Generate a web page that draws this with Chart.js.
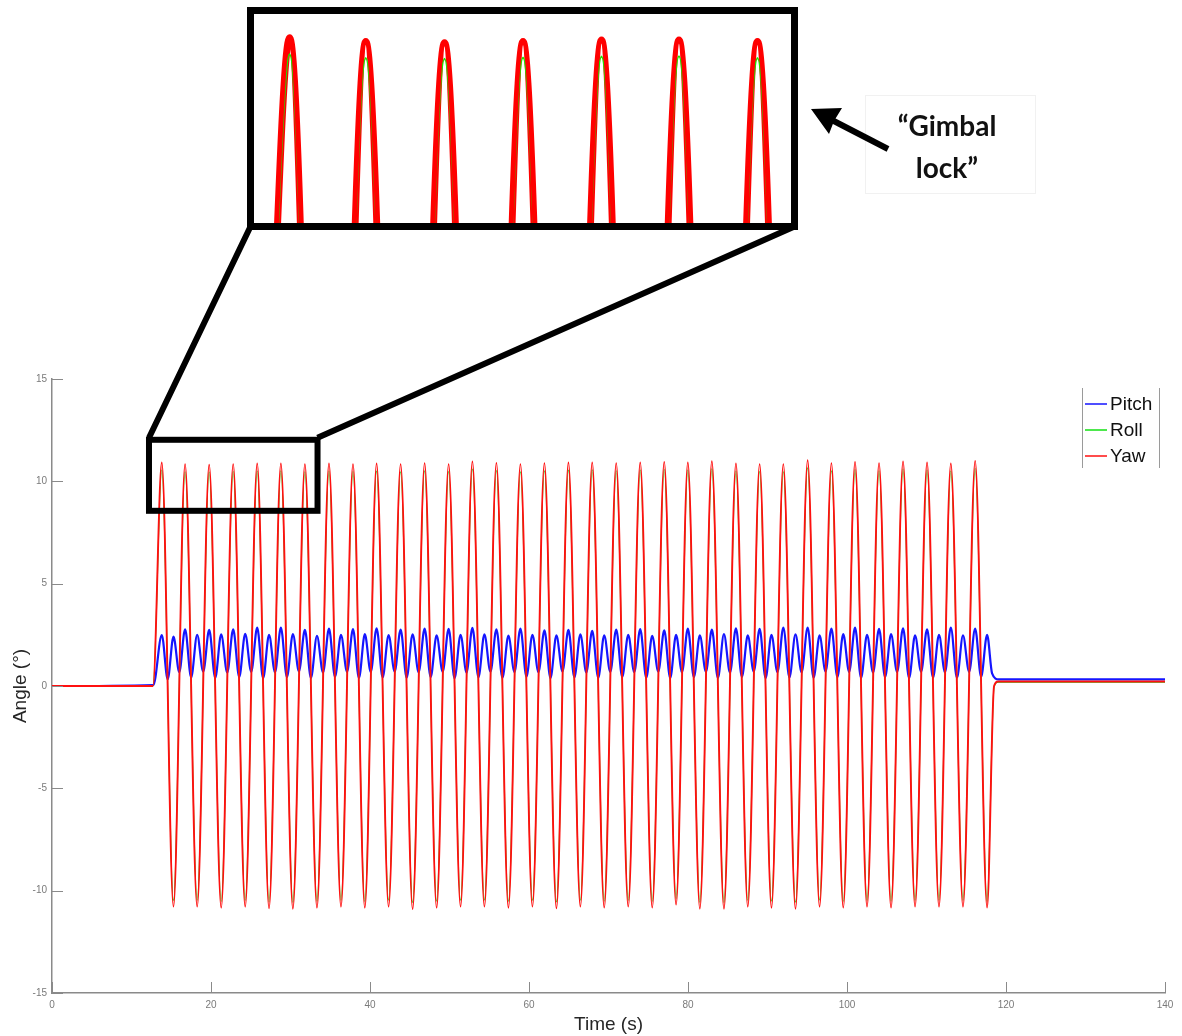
<!DOCTYPE html>
<html>
<head>
<meta charset="utf-8">
<title>Pitch, roll and yaw angles</title>
<script src="https://cdn.jsdelivr.net/npm/chart.js@4.4.1/dist/chart.umd.min.js"></script>
<style>
  html, body { margin: 0; padding: 0; background: #ffffff; }
  #wrap { position: relative; width: 1182px; height: 1036px; overflow: hidden; }
  #main { position: absolute; left: 0; top: 0; }
  #inset { position: absolute; left: 254px; top: 14px; }
  #note {
    position: absolute; left: 847px; top: 104px; width: 200px;
    font-family: Lato, 'Open Sans', sans-serif; font-weight: 700;
    font-size: 28px; line-height: 42px; color: #111; text-align: center;
  }
</style>
</head>
<body>
<div id="wrap">
  <canvas id="main" width="1182" height="1036"></canvas>
  <canvas id="inset" width="537" height="209"></canvas>
  <div id="note">“Gimbal<br>lock”</div>
</div>
<script>
// ---- recorded angles (degrees) against time (s) ----

// times of the yaw/roll crests and troughs (alternating, crest first)
const swingTime = [
  13.81, 15.28, 16.74, 18.26, 19.77, 21.28, 22.79, 24.30, 25.81, 27.30,
  28.79, 30.30, 31.81, 33.33, 34.84, 36.35, 37.86, 39.35, 40.83, 42.34,
  43.85, 45.36, 46.87, 48.38, 49.89, 51.39, 52.88, 54.39, 55.90, 57.41,
  58.92, 60.43, 61.94, 63.45, 64.96, 66.46, 67.95, 69.46, 70.97, 72.48,
  73.99, 75.50, 77.01, 78.50, 79.98, 81.49, 83.00, 84.52, 86.03, 87.52,
  89.01, 90.50, 91.99, 93.52, 95.05, 96.55, 98.04, 99.53, 101.01, 102.52,
  104.03, 105.54, 107.05, 108.56, 110.07, 111.57, 113.06, 114.59, 116.12, 117.62
];

const yawSwing = [
  10.92, -10.78, 10.84, -10.78, 10.81, -10.83, 10.84, -10.78, 10.87, -10.86,
  10.87, -10.88, 10.84, -10.83, 10.87, -10.78, 10.84, -10.83, 10.87, -10.78,
  10.84, -10.90, 10.89, -10.83, 10.84, -10.78, 10.97, -10.78, 10.90, -10.83,
  10.84, -10.78, 10.89, -10.86, 10.92, -10.78, 10.92, -10.83, 10.89, -10.78,
  10.92, -10.83, 10.95, -10.68, 10.92, -10.88, 10.98, -10.88, 10.87, -10.78,
  10.84, -10.83, 10.84, -10.88, 11.03, -10.78, 10.89, -10.83, 10.95, -10.78,
  10.89, -10.83, 10.97, -10.78, 10.92, -10.78, 10.87, -10.78, 11.00, -10.83
];

const rollSwing = [
  10.55, -10.48, 10.47, -10.46, 10.45, -10.52, 10.48, -10.47, 10.50, -10.55,
  10.51, -10.56, 10.47, -10.51, 10.50, -10.47, 10.48, -10.52, 10.50, -10.46,
  10.47, -10.58, 10.52, -10.51, 10.48, -10.47, 10.60, -10.46, 10.53, -10.52,
  10.47, -10.47, 10.52, -10.55, 10.55, -10.46, 10.56, -10.51, 10.52, -10.47,
  10.55, -10.52, 10.58, -10.38, 10.55, -10.56, 10.61, -10.57, 10.50, -10.47,
  10.48, -10.51, 10.47, -10.56, 10.66, -10.46, 10.52, -10.52, 10.58, -10.47,
  10.52, -10.51, 10.60, -10.47, 10.55, -10.46, 10.50, -10.47, 10.63, -10.52
];

// pitch peaks twice per swing: one crest at every yaw crest and trough
const pitchCrest = [
  2.49, 2.41, 2.77, 2.50, 2.74, 2.52, 2.77, 2.55, 2.85, 2.50,
  2.85, 2.54, 2.74, 2.45, 2.80, 2.50, 2.78, 2.53, 2.82, 2.49,
  2.76, 2.52, 2.80, 2.47, 2.79, 2.50, 2.84, 2.52, 2.77, 2.46,
  2.81, 2.50, 2.72, 2.47, 2.74, 2.52, 2.70, 2.48, 2.76, 2.50,
  2.78, 2.45, 2.72, 2.50, 2.80, 2.47, 2.75, 2.53, 2.82, 2.47,
  2.79, 2.50, 2.85, 2.52, 2.85, 2.47, 2.81, 2.53, 2.85, 2.50,
  2.79, 2.53, 2.82, 2.47, 2.77, 2.50, 2.85, 2.47, 2.80, 2.50
];

// pitch dips between its crests
const dipTime = [
  14.55, 16.01, 17.50, 19.02, 20.53, 22.04, 23.55, 25.06, 26.56, 28.05,
  29.55, 31.06, 32.57, 34.09, 35.60, 37.11, 38.61, 40.09, 41.59, 43.10,
  44.61, 46.12, 47.63, 49.14, 50.64, 52.14, 53.64, 55.15, 56.66, 58.17,
  59.68, 61.19, 62.70, 64.21, 65.71, 67.21, 68.71, 70.22, 71.73, 73.24,
  74.75, 76.26, 77.76, 79.24, 80.74, 82.25, 83.76, 85.28, 86.78, 88.27,
  89.76, 91.25, 92.76, 94.29, 95.80, 97.30, 98.79, 100.27, 101.77, 103.28,
  104.79, 106.30, 107.81, 109.32, 110.82, 112.32, 113.83, 115.36, 116.87
];
const pitchDip = [
  0.33, 0.68, 0.42, 0.70, 0.40, 0.66, 0.44, 0.69, 0.38, 0.67,
  0.43, 0.71, 0.40, 0.66, 0.45, 0.69, 0.39, 0.68, 0.42, 0.70,
  0.41, 0.67, 0.44, 0.69, 0.38, 0.66, 0.43, 0.70, 0.40, 0.68,
  0.45, 0.67, 0.39, 0.71, 0.42, 0.66, 0.40, 0.69, 0.44, 0.68,
  0.41, 0.70, 0.38, 0.67, 0.43, 0.69, 0.40, 0.66, 0.45, 0.70,
  0.39, 0.68, 0.42, 0.67, 0.41, 0.71, 0.44, 0.69, 0.40, 0.66,
  0.43, 0.68, 0.39, 0.70, 0.42, 0.67, 0.41, 0.69, 0.44
];

// at rest before the motion starts
const restTime = [0, 12.7];
const restAngle = [0, 0];
const pitchRestTime = [0, 12.75];
const pitchRestAngle = [0, 0.05];

// settling after the motion stops
const yawTailTime = [118.5, 119.0, 140];
const yawTail = [0.0, 0.22, 0.22];
const rollTailTime = [118.5, 119.0, 140];
const rollTail = [-0.05, 0.18, 0.18];
const pitchTailTime = [118.25, 119.1, 140];
const pitchTail = [0.62, 0.32, 0.32];

// axis ticks
const timeTicks = [0, 20, 40, 60, 80, 100, 120, 140];
const angleTicks = [-15, -10, -5, 0, 5, 10, 15];

// magnified window (time range, angle range)
const zoomTime = [12.2, 33.4];
const zoomAngle = [8.56, 12.03];
const insetTime = [12.44, 33.1];
const insetAngle = [6.8, 11.45];

const seriesNames = ['Pitch', 'Roll', 'Yaw'];
const seriesColors = ['#1515ff', '#12e012', '#ff1010'];

// ---- build {x, y} point lists ----
function joinPoints(...parts) {
  const pts = [];
  for (const [t, v] of parts) for (let i = 0; i < t.length; i++) pts.push({ x: t[i], y: v[i] });
  return pts;
}
const yawPoints = joinPoints([restTime, restAngle], [swingTime, yawSwing], [yawTailTime, yawTail]);
const rollPoints = joinPoints([restTime, restAngle], [swingTime, rollSwing], [rollTailTime, rollTail]);

const pitchMidTime = [], pitchMid = [];
for (let i = 0; i < swingTime.length; i++) {
  pitchMidTime.push(swingTime[i]); pitchMid.push(pitchCrest[i]);
  if (i < dipTime.length) { pitchMidTime.push(dipTime[i]); pitchMid.push(pitchDip[i]); }
}
const pitchPoints = joinPoints([pitchRestTime, pitchRestAngle], [pitchMidTime, pitchMid], [pitchTailTime, pitchTail]);

const FONT = "'Liberation Sans', Arial, sans-serif";

function lineSet(label, data, color, width, order) {
  return {
    label, data, borderColor: color, backgroundColor: color, borderWidth: width,
    pointRadius: 0, pointHoverRadius: 0, cubicInterpolationMode: 'monotone', fill: false, order
  };
}

// ---- annotations drawn over the main plot ----
const overlay = {
  id: 'overlay',
  afterDraw(chart) {
    const { ctx, scales: { x, y } } = chart;
    ctx.save();

    // inward tick marks
    ctx.strokeStyle = '#8a8a8a';
    ctx.lineWidth = 1;
    ctx.beginPath();
    x.ticks.forEach(t => {
      const px = Math.round(x.getPixelForValue(t.value)) + 0.5;
      ctx.moveTo(px, y.bottom); ctx.lineTo(px, y.bottom - 11);
    });
    y.ticks.forEach(t => {
      const py = Math.round(y.getPixelForValue(t.value)) + 0.5;
      ctx.moveTo(x.left, py); ctx.lineTo(x.left + 11, py);
    });
    ctx.stroke();

    // legend
    const lx = 1082, rx = 1159;
    ctx.strokeStyle = '#9a9a9a';
    ctx.beginPath();
    ctx.moveTo(lx + 0.5, 388); ctx.lineTo(lx + 0.5, 468);
    ctx.moveTo(rx + 0.5, 388); ctx.lineTo(rx + 0.5, 468);
    ctx.stroke();
    ctx.font = '19px ' + FONT;
    ctx.textBaseline = 'middle';
    ctx.textAlign = 'left';
    seriesNames.forEach((name, i) => {
      const yy = 404 + i * 26;
      ctx.strokeStyle = seriesColors[i];
      ctx.lineWidth = 1.5;
      ctx.beginPath(); ctx.moveTo(1085, yy); ctx.lineTo(1107, yy); ctx.stroke();
      ctx.fillStyle = '#111';
      ctx.fillText(name, 1110, yy + 1);
    });

    // magnified window outline and its connectors
    const zx1 = x.getPixelForValue(zoomTime[0]), zx2 = x.getPixelForValue(zoomTime[1]);
    const zy1 = y.getPixelForValue(zoomAngle[1]), zy2 = y.getPixelForValue(zoomAngle[0]);
    ctx.strokeStyle = '#000';
    ctx.lineWidth = 6;
    ctx.strokeRect(zx1, zy1, zx2 - zx1, zy2 - zy1);

    const fx1 = 250.5, fy1 = 10.5, fx2 = 794.5, fy2 = 226.5;
    ctx.lineWidth = 6;
    ctx.beginPath();
    ctx.moveTo(zx1, zy1 - 2); ctx.lineTo(fx1, fy2);
    ctx.moveTo(zx2, zy1 - 2); ctx.lineTo(fx2, fy2);
    ctx.stroke();
    ctx.lineWidth = 7;
    ctx.strokeRect(fx1, fy1, fx2 - fx1, fy2 - fy1);

    // faint frame behind the note
    ctx.strokeStyle = '#f1f1f1';
    ctx.lineWidth = 1;
    ctx.strokeRect(865.5, 95.5, 170, 98);

    // arrow pointing at the magnified view
    ctx.strokeStyle = '#000';
    ctx.fillStyle = '#000';
    ctx.lineWidth = 6;
    ctx.lineCap = 'butt';
    ctx.beginPath(); ctx.moveTo(888, 149); ctx.lineTo(828, 118); ctx.stroke();
    ctx.beginPath();
    ctx.moveTo(811, 109);
    ctx.lineTo(842, 108);
    ctx.lineTo(834, 121);
    ctx.lineTo(829, 134);
    ctx.closePath();
    ctx.fill();

    ctx.restore();
  }
};

new Chart(document.getElementById('main'), {
  type: 'line',
  data: {
    datasets: [
      lineSet('Pitch', pitchPoints, seriesColors[0], 2.2, 3),
      lineSet('Roll', rollPoints, seriesColors[1], 1.1, 2),
      lineSet('Yaw', yawPoints, seriesColors[2], 1.9, 1)
    ]
  },
  options: {
    responsive: false,
    devicePixelRatio: 1,
    animation: false,
    events: [],
    layout: { padding: { top: 379, right: 17, left: 0, bottom: 0 } },
    plugins: { legend: { display: false }, tooltip: { enabled: false } },
    scales: {
      x: {
        type: 'linear', min: 0, max: 140,
        afterBuildTicks: s => { s.ticks = timeTicks.map(v => ({ value: v })); },
        afterFit: s => { s.height = 43; },
        grid: { display: false, drawTicks: false },
        border: { display: true, color: '#8a8a8a', width: 1.5 },
        ticks: { color: '#7a7a7a', font: { family: FONT, size: 10 }, padding: 6, maxRotation: 0 },
        title: { display: true, text: 'Time (s)', color: '#262626', font: { family: FONT, size: 19 }, padding: { top: 0, bottom: 0 } }
      },
      y: {
        type: 'linear', min: -15, max: 15,
        afterBuildTicks: s => { s.ticks = angleTicks.map(v => ({ value: v })); },
        afterFit: s => { s.width = 52; },
        grid: { display: false, drawTicks: false },
        border: { display: true, color: '#8a8a8a', width: 1.5 },
        ticks: { color: '#7a7a7a', font: { family: FONT, size: 10 }, padding: 5 },
        title: { display: true, text: 'Angle (°)', color: '#262626', font: { family: FONT, size: 19 }, padding: { top: 9, bottom: 0 } }
      }
    }
  },
  plugins: [overlay]
});

// magnified view of the first crests
new Chart(document.getElementById('inset'), {
  type: 'line',
  data: {
    datasets: [
      lineSet('Yaw', yawPoints, '#ff0000', 7, 3),
      lineSet('Roll', rollPoints, '#22e000', 2.2, 2),
      lineSet('Yaw', yawPoints, '#ff0000', 2.6, 1)
    ]
  },
  options: {
    responsive: false,
    devicePixelRatio: 1,
    animation: false,
    events: [],
    layout: { padding: 0 },
    plugins: { legend: { display: false }, tooltip: { enabled: false } },
    scales: {
      x: { type: 'linear', display: false, min: insetTime[0], max: insetTime[1] },
      y: { type: 'linear', display: false, min: insetAngle[0], max: insetAngle[1] }
    }
  }
});
</script>
</body>
</html>
